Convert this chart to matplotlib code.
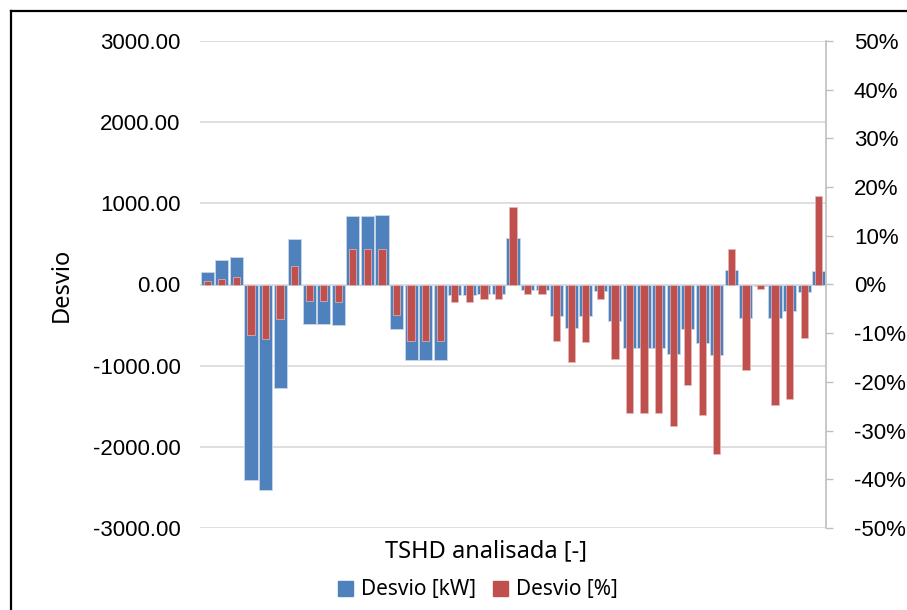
import matplotlib
matplotlib.use("Agg")
import matplotlib.pyplot as plt
from matplotlib.lines import Line2D
from matplotlib.patches import Patch
from matplotlib.ticker import FuncFormatter, MultipleLocator

# deviation per analysed TSHD
desvio_kw = [150, 306, 339, -2407, -2530, -1273, 559, -481, -481, -498,
             845, 845, 857, -551, -930, -930, -930, -131, -131, -114,
             -114, 571, -69, -69, -388, -535, -388, -82, -453, -783,
             -783, -783, -853, -551, -718, -865, 184, -412, -20, -412,
             -322, -90, 167]
desvio_pct = [0.7, 1.2, 1.5, -10.4, -11.1, -7.0, 3.9, -3.4, -3.4, -3.6,
              7.2, 7.2, 7.2, -6.2, -11.6, -11.6, -11.6, -3.5, -3.5, -2.9,
              -2.9, 15.9, -1.9, -1.9, -11.5, -16.0, -11.9, -2.9, -15.4, -26.4,
              -26.4, -26.4, -29.0, -20.6, -26.8, -34.8, 7.3, -17.6, -0.9, -24.8,
              -23.6, -10.9, 18.2]
series_names = ["Desvio [kW]", "Desvio [%]"]

BLUE = "#4F81BD"
RED = "#C0504D"
GRID = "#D9D9D9"
TICK_FONT = "Liberation Sans"
TITLE_FONT = ["Noto Sans", "DejaVu Sans"]

W, H = 907, 610
fig = plt.figure(figsize=(W / 100, H / 100), dpi=100)
ax = fig.add_axes([200 / W, 1 - 528 / H, 626 / W, 487 / H])
ax2 = ax.twinx()

x = list(range(len(desvio_kw)))
ax.bar(x, desvio_kw, width=0.9, color=BLUE, edgecolor="#C9D7EA", linewidth=0.6, zorder=2)
ax2.bar(x, [v / 100 for v in desvio_pct], width=0.5, color=RED,
        edgecolor="#E6B9B8", linewidth=0.5, zorder=3)

ax.set_xlim(-0.5, len(x) - 0.5)
ax.set_ylim(-3000, 3000)
ax2.set_ylim(-0.5, 0.5)

ax.yaxis.set_major_locator(MultipleLocator(1000))
ax.yaxis.set_major_formatter(FuncFormatter(lambda v, p: f"{v:.2f}"))
ax2.yaxis.set_major_locator(MultipleLocator(0.1))
ax2.yaxis.set_major_formatter(FuncFormatter(lambda v, p: f"{round(v * 100):d}%"))

ax.grid(axis="y", color=GRID, linewidth=1.2, zorder=0)
ax.set_axisbelow(True)
ax.set_xticks([])
ax.tick_params(axis="y", length=0, pad=14, labelsize=16)
ax2.tick_params(axis="y", length=5, width=1, color="#BFBFBF", pad=15, labelsize=16)
for lab in ax.get_yticklabels() + ax2.get_yticklabels():
    lab.set_fontfamily(TICK_FONT)

for s in ax.spines.values():
    s.set_visible(False)
for name, s in ax2.spines.items():
    s.set_visible(name == "right")
ax2.spines["right"].set_color("#BFBFBF")
ax2.spines["right"].set_linewidth(1.2)

fig.text(62 / W, 1 - 285 / H, "Desvio", rotation=90, ha="center", va="center",
         fontsize=17, family=TITLE_FONT)
fig.text(486 / W, 1 - 551 / H, "TSHD analisada [-]", ha="center", va="center",
         fontsize=17, family=TITLE_FONT)

handles = [Patch(color=BLUE), Patch(color=RED)]
fig.legend(handles, series_names, loc="center", bbox_to_anchor=(478 / W, 1 - 590 / H),
           ncol=2, frameon=False, prop={"family": TITLE_FONT, "size": 15},
           handlelength=0.7, handleheight=0.7, handletextpad=0.4, columnspacing=0.8)

# outer chart frame (left and top edges visible)
fig.add_artist(Line2D([11 / W, 11 / W], [0, 1 - 11 / H], color="black", linewidth=1.6))
fig.add_artist(Line2D([11 / W, 1], [1 - 11 / H, 1 - 11 / H], color="black", linewidth=1.6))

fig.savefig("out.png", dpi=100)
